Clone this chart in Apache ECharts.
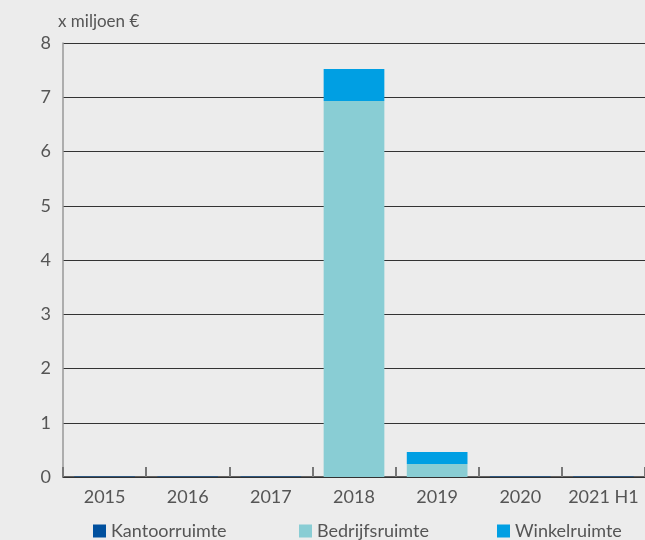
<!DOCTYPE html>
<html><head><meta charset="utf-8">
<script src="https://cdn.jsdelivr.net/npm/echarts@6/dist/echarts.min.js"></script>
<style>html,body{margin:0;padding:0;background:#ececec}#c{width:645px;height:540px}</style>
</head><body><div id="c"></div>
<script>
const categories = ['2015','2016','2017','2018','2019','2020','2021 H1'];
const kantoor = [0.01,0.01,0.01,0,0,0.01,0.01];
const bedrijfs = [0,0,0,6.93,0.24,0,0];
const winkel = [0,0,0,0.59,0.22,0,0];
const yTicks = [0,1,2,3,4,5,6,7,8];
const names = ['Kantoorruimte','Bedrijfsruimte','Winkelruimte'];
const colors = ['#00509e','#89cdd4','#009fe3'];
const font = 'Lato, "Noto Sans", sans-serif';
const chart = echarts.init(document.getElementById('c'));
const legendPos = [93, 299, 497];
chart.setOption({
  backgroundColor: '#ececec',
  animation: false,
  textStyle: {fontFamily: font},
  grid: {left: 63, right: 0, top: 43, bottom: 63},
  legend: names.map((n, i) => ({
    data: [n], left: legendPos[i], top: 522, icon: 'rect', itemWidth: 13, itemHeight: 13,
    itemGap: 10, padding: 0, textStyle: {fontSize: 18, color: '#555', fontFamily: font}
  })),
  xAxis: {
    type: 'category', data: categories,
    axisLine: {lineStyle: {color: '#333', width: 1.5}},
    axisTick: {show: true, inside: true, length: 10, interval: 0, lineStyle: {color: '#777', width: 2}},
    axisLabel: {fontSize: 18, color: '#555', margin: 11, interval: 0, hideOverlap: false}
  },
  yAxis: {
    type: 'value', min: 0, max: 8, interval: 1,
    name: 'x miljoen €', nameLocation: 'end', nameGap: 13,
    nameTextStyle: {fontSize: 17, color: '#555', align: 'left', padding: [0,0,0,-5]},
    axisLine: {show: true, lineStyle: {color: '#999', width: 1.5}},
    axisTick: {show: false},
    axisLabel: {fontSize: 18, color: '#555', margin: 12, formatter: v => yTicks.includes(v) ? String(v) : ''},
    splitLine: {lineStyle: {color: '#333', width: 1}}
  },
  series: [kantoor, bedrijfs, winkel].map((d, i) => ({
    name: names[i], type: 'bar', stack: 'tot', data: d, barWidth: '73%',
    itemStyle: {color: colors[i]}
  }))
});
</script></body></html>
